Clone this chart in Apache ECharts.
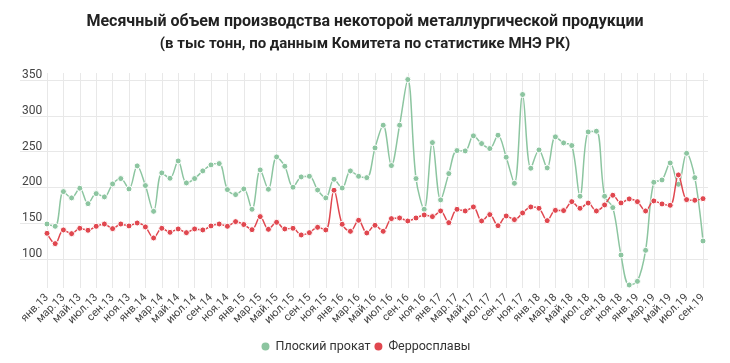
<!DOCTYPE html>
<html>
<head>
<meta charset="utf-8">
<script src="https://cdn.jsdelivr.net/npm/echarts@6/dist/echarts.min.js"></script>
<style>
html,body{margin:0;padding:0;background:#fff;}
#chart{width:730px;height:363px;}
</style>
</head>
<body>
<div id="chart"></div>
<script>
const titleLine1 = 'Месячный объем производства некоторой металлургической продукции';
const titleLine2 = '(в тыс тонн, по данным Комитета по статистике МНЭ РК)';
const monthNames = ['янв','фев','мар','апр','май','июн','июл','авг','сен','окт','ноя','дек'];
const years = ['13','14','15','16','17','18','19'];
const lastYearMonths = 9;
const seriesNames = ['Плоский прокат', 'Ферросплавы'];
const yTicks = [100, 150, 200, 250, 300, 350];

const flatRolled = [
  149.3, 146.1, 194.5, 185.7, 199.2, 177.7, 191.7, 187.1, 205.2, 212.7, 198.2, 230.4,
  202.9, 167.0, 220.6, 213.1, 237.3, 206.6, 212.7, 223.4, 231.8, 233.6, 197.3, 190.3,
  198.2, 169.8, 224.8, 197.8, 242.9, 229.9, 200.6, 215.0, 215.9, 196.8, 185.7, 211.7,
  199.5, 223.4, 215.9, 214.0, 255.5, 287.2, 230.8, 287.2, 350.9, 212.7, 169.8, 262.9,
  182.9, 219.6, 251.8, 251.3, 272.3, 261.5, 254.6, 273.2, 242.5, 206.1, 330.0, 227.1,
  252.7, 227.6, 270.9, 262.5, 258.8, 188.0, 277.8, 278.8, 188.0, 172.2, 106.0, 64.2,
  69.3, 112.6, 207.5, 210.8, 234.5, 204.7, 248.0, 214.0, 125.6
];
const ferroalloys = [
  136.3, 121.9, 141.0, 135.8, 143.3, 140.5, 146.1, 149.3, 142.8, 149.3, 146.6, 150.7,
  145.2, 129.8, 143.3, 137.7, 142.4, 137.2, 142.4, 141.0, 146.6, 149.3, 146.1, 152.6,
  148.6, 141.4, 159.6, 141.9, 151.7, 142.4, 143.3, 134.0, 137.2, 144.7, 141.0, 196.4,
  148.9, 139.1, 154.5, 136.8, 147.5, 139.1, 156.8, 157.7, 153.5, 157.7, 161.9, 159.6,
  167.5, 151.2, 169.8, 167.5, 173.1, 153.5, 162.4, 147.0, 160.5, 155.4, 164.7, 173.1,
  171.2, 154.0, 168.4, 168.0, 180.5, 171.2, 178.5, 167.5, 175.9, 189.4, 178.7, 184.3,
  180.5, 167.5, 181.5, 177.3, 175.4, 217.8, 183.3, 182.4, 184.7
];

const categories = [];
years.forEach((y, yi) => {
  const n = (yi === years.length - 1) ? lastYearMonths : 12;
  for (let m = 0; m < n; m++) categories.push(monthNames[m] + '.' + y);
});

const green = '#8cc5a0';
const red = '#e0474f';
const font = 'Roboto, "Noto Sans", sans-serif';

const chart = echarts.init(document.getElementById('chart'), null, {renderer: 'canvas'});
chart.setOption({
  animation: false,
  textStyle: {fontFamily: font},
  title: {
    text: titleLine1,
    subtext: titleLine2,
    left: 'center',
    top: 5,
    itemGap: -2,
    textStyle: {fontFamily: font, fontSize: 16, fontWeight: 'bold', color: '#222', lineHeight: 24},
    subtextStyle: {fontFamily: font, fontSize: 15, fontWeight: 'bold', color: '#222', lineHeight: 24}
  },
  legend: {
    data: seriesNames,
    bottom: 5,
    left: 'center',
    icon: 'circle',
    itemWidth: 10,
    itemHeight: 10,
    itemGap: 2,
    textStyle: {fontFamily: font, fontSize: 12.5, color: '#333'}
  },
  grid: [
    {left: 47, right: 27, top: 73, bottom: 75, containLabel: false},
    {left: 20, right: 22, top: 80, bottom: 104, containLabel: false}
  ],
  xAxis: [
    {
      type: 'category',
      gridIndex: 0,
      data: categories,
      boundaryGap: false,
      axisLine: {show: false},
      axisTick: {show: false},
      axisLabel: {interval: 1, rotate: 45, fontSize: 11, color: '#444', fontFamily: font, margin: 8},
      splitLine: {show: true, interval: 1, lineStyle: {color: '#e8e8e8', width: 1}}
    },
    {
      type: 'value',
      gridIndex: 1,
      show: false,
      min: 0, max: 1
    }
  ],
  yAxis: [
    {
      type: 'value',
      gridIndex: 0,
      min: 60,
      max: 360,
      axisLabel: {show: false},
      axisLine: {show: false},
      axisTick: {show: false},
      splitLine: {show: false}
    },
    {
      type: 'value',
      gridIndex: 1,
      min: yTicks[0],
      max: yTicks[yTicks.length - 1],
      interval: 50,
      axisLine: {show: false},
      axisTick: {show: false},
      axisLabel: {inside: true, verticalAlign: 'bottom', margin: 2, padding: [0, 0, -1, 0], lineHeight: 12, fontSize: 12, color: '#444', fontFamily: font},
      splitLine: {show: true, lineStyle: {color: '#e8e8e8', width: 1}}
    }
  ],
  series: [
    {
      name: seriesNames[0],
      type: 'line',
      xAxisIndex: 0, yAxisIndex: 0,
      data: flatRolled,
      smooth: 0.35,
      symbol: 'circle',
      symbolSize: 6,
      showAllSymbol: true,
      color: green,
      lineStyle: {color: green, width: 1.5},
      itemStyle: {color: green, borderColor: '#fff', borderWidth: 1},
      z: 3
    },
    {
      name: seriesNames[1],
      type: 'line',
      xAxisIndex: 0, yAxisIndex: 0,
      data: ferroalloys,
      smooth: 0.35,
      symbol: 'circle',
      symbolSize: 6,
      showAllSymbol: true,
      color: red,
      lineStyle: {color: red, width: 1.5},
      itemStyle: {color: red, borderColor: '#fff', borderWidth: 1},
      z: 4
    }
  ]
});
</script>
</body>
</html>
